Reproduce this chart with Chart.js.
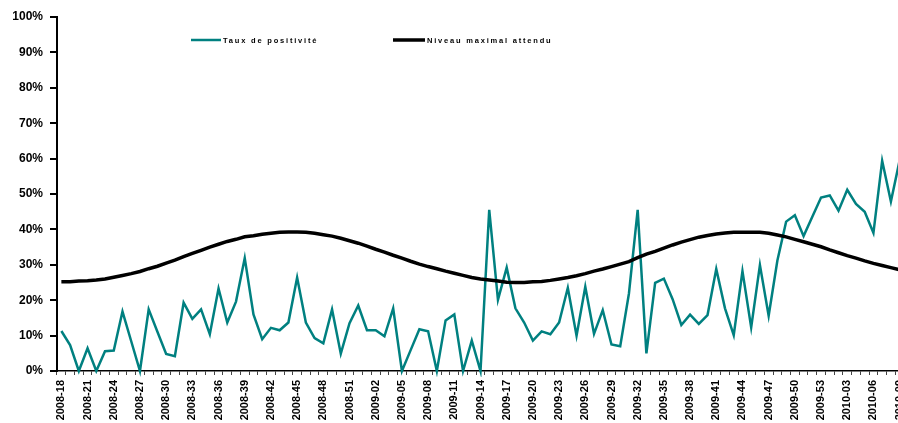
<!DOCTYPE html>
<html>
<head>
<meta charset="utf-8">
<script src="https://cdn.jsdelivr.net/npm/chart.js@4"></script>
<style>
html,body{margin:0;padding:0;overflow:hidden;background:#fff;width:898px;height:423px;}
#wrap{position:absolute;left:0;top:0;width:930px;height:440px;}
</style>
</head>
<body>
<div id="wrap"><canvas id="c" width="930" height="440"></canvas></div>
<script>
// Categories: ISO weeks (year, first week, last week)
const weekRanges = [[2008, 18, 52], [2009, 1, 53], [2010, 1, 9]];
const weeks = [];
weekRanges.forEach(([y, a, b]) => { for (let w = a; w <= b; w++) weeks.push(y + '-' + String(w).padStart(2, '0')); });

const seriesNames = ['Taux de positivité', 'Niveau maximal attendu'];

// Taux de positivité (%)
const tauxPositivite = [
  11.3, 7.3, 0, 6.4, 0, 5.6, 5.8, 16.8, 8.4, 0,
  17.4, 11.1, 4.8, 4.2, 19.3, 14.7, 17.4, 10.4, 23.3, 13.7,
  19.6, 31.9, 16.0, 9.0, 12.2, 11.5, 13.7, 26.4, 13.7, 9.3,
  7.8, 17.4, 4.9, 13.5, 18.5, 11.5, 11.5, 9.8, 17.7, 0,
  5.9, 11.8, 11.2, 0, 14.3, 16.0, 0, 8.6, 0, 45.5,
  20.1, 29.2, 17.7, 13.7, 8.6, 11.2, 10.4, 13.7, 23.5, 10.0,
  23.8, 10.5, 17.2, 7.5, 7.0, 21.9, 45.5, 5.0, 24.9, 26.1,
  20.3, 13.0, 15.9, 13.3, 15.8, 28.8, 17.7, 10.1, 28.2, 12.3,
  29.9, 15.6, 31.2, 42.2, 44.0, 38.1, 43.6, 49.0, 49.6, 45.3,
  51.2, 47.2, 45.0, 39.0, 59.4, 47.9, 59.5
];

// Niveau maximal attendu (%)
const niveauMaximal = [
  25.2, 25.2, 25.4, 25.5, 25.7, 26.0, 26.5, 27.0, 27.5, 28.1,
  28.9, 29.6, 30.5, 31.3, 32.3, 33.2, 34.1, 35.0, 35.8, 36.6,
  37.2, 37.9, 38.2, 38.6, 38.9, 39.2, 39.3, 39.3, 39.2, 38.9,
  38.5, 38.1, 37.5, 36.8, 36.1, 35.3, 34.4, 33.6, 32.7, 31.9,
  31.0, 30.2, 29.5, 28.9, 28.2, 27.6, 27.0, 26.4, 26.0, 25.7,
  25.4, 25.1, 25.0, 25.0, 25.2, 25.3, 25.6, 26.0, 26.4, 26.9,
  27.5, 28.2, 28.8, 29.5, 30.2, 30.9, 32.0, 33.0, 33.8, 34.7,
  35.6, 36.4, 37.1, 37.8, 38.3, 38.7, 39.0, 39.2, 39.2, 39.2,
  39.2, 38.9, 38.4, 37.9, 37.2, 36.5, 35.8, 35.1, 34.2, 33.4,
  32.6, 31.9, 31.1, 30.4, 29.8, 29.2, 28.6
];

const yTicks = [0, 10, 20, 30, 40, 50, 60, 70, 80, 90, 100];

const GREEN = '#008080';
const FONT = '"Liberation Sans", Arial, sans-serif';

const legendPlugin = {
  id: 'customLegend',
  afterDraw(chart) {
    const ctx = chart.ctx;
    const ds = chart.data.datasets;
    const items = [
      { x1: 191, x2: 221, tx: 223, ds: ds[1] },
      { x1: 393, x2: 425, tx: 427, ds: ds[0] }
    ];
    const y = 40;
    ctx.save();
    items.forEach(it => {
      ctx.beginPath();
      ctx.strokeStyle = it.ds.borderColor;
      ctx.lineWidth = it.ds.borderWidth;
      ctx.moveTo(it.x1, y);
      ctx.lineTo(it.x2, y);
      ctx.stroke();
      ctx.fillStyle = '#000';
      ctx.font = 'bold 7.5px ' + FONT;
      if ('letterSpacing' in ctx) ctx.letterSpacing = '1.8px';
      ctx.textBaseline = 'middle';
      ctx.textAlign = 'left';
      ctx.fillText(it.ds.label, it.tx, y + 0.5);
    });
    ctx.restore();
  }
};

new Chart(document.getElementById('c'), {
  type: 'line',
  data: {
    labels: weeks,
    datasets: [
      {
        label: seriesNames[1],
        data: niveauMaximal,
        borderColor: '#000',
        borderWidth: 3.5,
        pointRadius: 0,
        tension: 0,
        clip: 6,
        order: 0
      },
      {
        label: seriesNames[0],
        data: tauxPositivite,
        borderColor: GREEN,
        borderWidth: 2.5,
        pointRadius: 0,
        tension: 0,
        clip: 6,
        order: 1
      }
    ]
  },
  options: {
    responsive: false,
    devicePixelRatio: 1,
    animation: false,
    layout: { padding: { top: 17, right: 26, bottom: 0, left: 0 } },
    plugins: { legend: { display: false }, tooltip: { enabled: false } },
    scales: {
      x: {
        type: 'category',
        offset: true,
        grid: {
          offset: true,
          drawOnChartArea: false,
          drawTicks: true,
          tickLength: 4,
          color: '#444',
          lineWidth: 1
        },
        border: { display: true, color: '#000', width: 1.5 },
        ticks: {
          autoSkip: false,
          maxRotation: 90,
          minRotation: 90,
          padding: 5,
          color: '#000',
          font: { family: FONT, size: 11, weight: 'bold' },
          callback: function (v, i) { return i % 3 === 0 ? weeks[i] : ''; }
        },
        afterFit: s => { s.height = 69; }
      },
      y: {
        min: 0,
        max: 100,
        afterBuildTicks: s => { s.ticks = yTicks.map(v => ({ value: v })); },
        grid: {
          drawOnChartArea: false,
          drawTicks: true,
          tickLength: 7,
          color: '#000',
          lineWidth: 2
        },
        border: { display: true, color: '#000', width: 2 },
        ticks: {
          padding: 7,
          color: '#000',
          font: { family: FONT, size: 12, weight: 'bold' },
          callback: v => v + '%'
        },
        afterFit: s => { s.width = 57; }
      }
    }
  },
  plugins: [legendPlugin]
});
</script>
</body>
</html>
